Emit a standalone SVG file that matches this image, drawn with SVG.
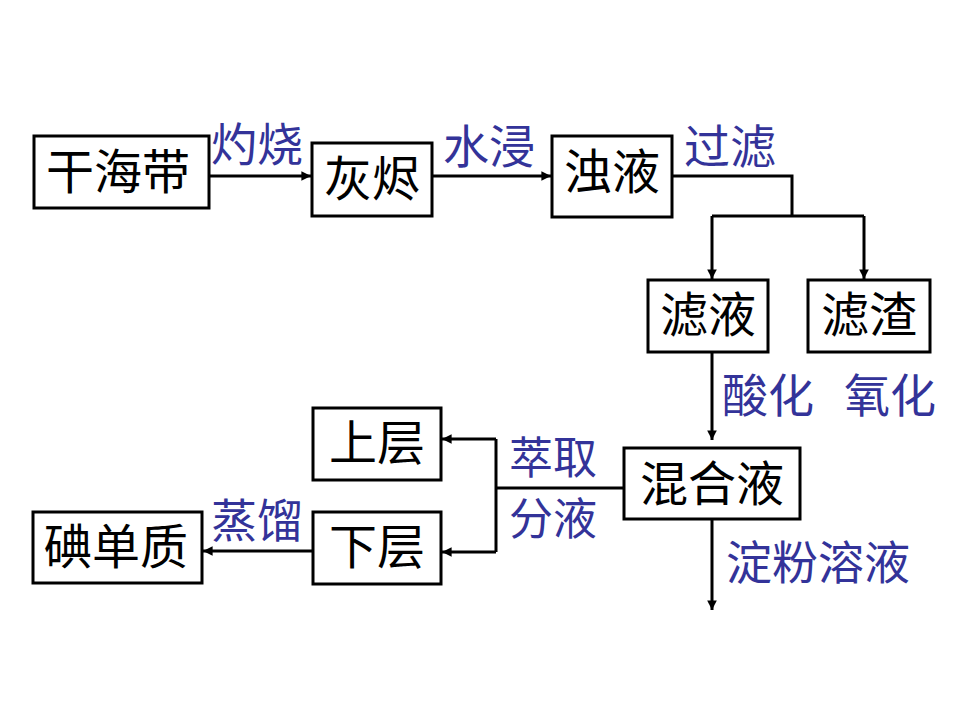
<svg xmlns="http://www.w3.org/2000/svg" width="960" height="720" viewBox="0 0 960 720">
<defs>
<style>
.box{fill:#fff;stroke:#000;stroke-width:3}
.t{font-family:"Noto Sans CJK SC","Noto Sans",sans-serif;font-size:48px;fill:#000;text-anchor:middle;dominant-baseline:central}
.l{font-family:"Noto Sans CJK SC","Noto Sans",sans-serif;font-size:46px;fill:#333399;text-anchor:middle;dominant-baseline:central}
.s{font-size:44px}
.c{fill:none;stroke:#000;stroke-width:3}
</style>
<marker id="a" viewBox="0 0 10 10" refX="10" refY="5" markerWidth="3.2" markerHeight="3.2" orient="auto" markerUnits="strokeWidth">
<path d="M0,0 L10,5 L0,10 Z" fill="#000"/>
</marker>
</defs>
<rect width="960" height="720" fill="#fff"/>
<g id="connectors">
<path class="c" d="M209,176 H311" marker-end="url(#a)"/>
<path class="c" d="M432,176 H551" marker-end="url(#a)"/>
<path class="c" d="M672,176 H792 V216"/>
<path class="c" d="M712,216 H864"/>
<path class="c" d="M712,216 V279" marker-end="url(#a)"/>
<path class="c" d="M864,216 V279" marker-end="url(#a)"/>
<path class="c" d="M712,352 V440" marker-end="url(#a)"/>
<path class="c" d="M624,488 H496"/>
<path class="c" d="M496,439 V552"/>
<path class="c" d="M496,439 H442" marker-end="url(#a)"/>
<path class="c" d="M496,552 H442" marker-end="url(#a)"/>
<path class="c" d="M313,551 H203" marker-end="url(#a)"/>
<path class="c" d="M712,519 V610" marker-end="url(#a)"/>
</g>
<g id="labels">
<text class="l" x="257" y="141">灼烧</text>
<text class="l" x="489" y="143">水浸</text>
<text class="l" x="730" y="143">过滤</text>
<text class="l" x="768" y="392">酸化</text>
<text class="l" x="890" y="392">氧化</text>
<text class="l s" x="553" y="455">萃取</text>
<text class="l s" x="553" y="516">分液</text>
<text class="l" x="257" y="517">蒸馏</text>
<text class="l" x="818" y="559">淀粉溶液</text>
</g>
<g id="n1"><rect class="box" x="34" y="136" width="175" height="72"/><text class="t" x="118" y="168">干海带</text></g>
<g id="n2"><rect class="box" x="312" y="143" width="120" height="73"/><text class="t" x="372" y="175">灰烬</text></g>
<g id="n3"><rect class="box" x="552" y="136" width="120" height="81"/><text class="t" x="612" y="168">浊液</text></g>
<g id="n4"><rect class="box" x="648" y="280" width="120" height="72"/><text class="t" x="708" y="311">滤液</text></g>
<g id="n5"><rect class="box" x="808" y="280" width="122" height="72"/><text class="t" x="869" y="311">滤渣</text></g>
<g id="n6"><rect class="box" x="624" y="448" width="176" height="71"/><text class="t" x="712" y="480">混合液</text></g>
<g id="n7"><rect class="box" x="313" y="408" width="128" height="72"/><text class="t" x="377" y="439">上层</text></g>
<g id="n8"><rect class="box" x="313" y="512" width="128" height="72"/><text class="t" x="377" y="543">下层</text></g>
<g id="n9"><rect class="box" x="33" y="512" width="169" height="71"/><text class="t" x="116" y="543">碘单质</text></g>
</svg>
